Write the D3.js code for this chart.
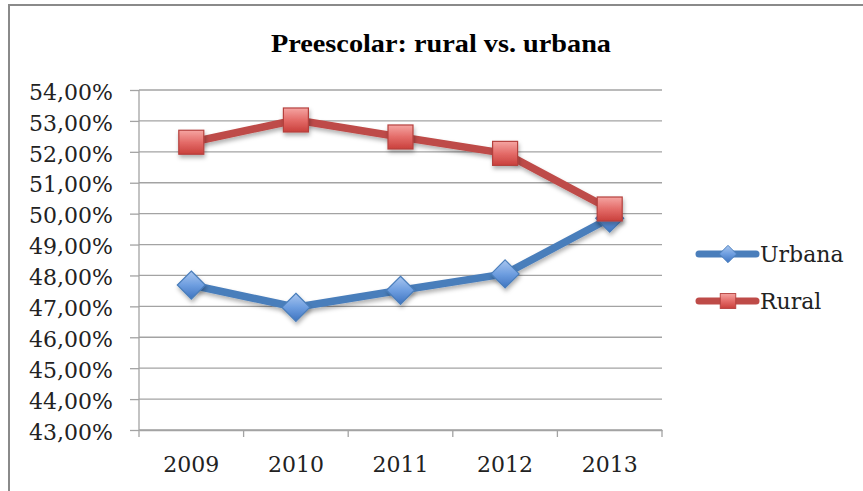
<!DOCTYPE html>
<html>
<head>
<meta charset="utf-8">
<script src="https://cdn.jsdelivr.net/npm/d3@7"></script>
<style>
  html, body { margin: 0; padding: 0; background: #fff; }
  svg { display: block; }
</style>
</head>
<body>
<svg id="chart" width="863" height="491"></svg>
<script>
// Preescolar enrolment share by area, 2009–2013 (percent)
const years = ["2009", "2010", "2011", "2012", "2013"];
const urbana = [47.69, 46.97, 47.52, 48.05, 49.85];
const rural = [52.31, 53.03, 52.48, 51.95, 50.15];
const yTickValues = [43, 44, 45, 46, 47, 48, 49, 50, 51, 52, 53, 54];
const seriesNames = ["Urbana", "Rural"];

const svg = d3.select("#chart");
const W = 863, H = 491;
const serif = "'DejaVu Serif', 'Liberation Serif', serif";

const locale = d3.formatLocale({ decimal: ",", thousands: ".", grouping: [3], currency: ["", ""] });
const fmt = v => locale.format(".2f")(v) + "%";

const plot = { left: 139, right: 662, top: 90, bottom: 430 };

const x = d3.scaleBand().domain(years).range([plot.left, plot.right]).padding(0);
const y = d3.scaleLinear().domain([43, 54]).range([plot.bottom, plot.top]);

// frame
svg.append("path")
  .attr("d", `M9,${H} L9,5 L${W},5`)
  .attr("fill", "none").attr("stroke", "#8a8a8a").attr("stroke-width", 2);

// title
svg.append("text")
  .attr("x", 441).attr("y", 52)
  .attr("text-anchor", "middle")
  .attr("font-family", "'Liberation Serif', serif")
  .attr("font-weight", "bold")
  .attr("font-size", 26)
  .attr("textLength", 340)
  .attr("lengthAdjust", "spacingAndGlyphs")
  .attr("fill", "#000")
  .text("Preescolar: rural vs. urbana");

// gridlines
svg.append("g")
  .selectAll("line").data(yTickValues).join("line")
  .attr("x1", plot.left).attr("x2", plot.right)
  .attr("y1", d => y(d)).attr("y2", d => y(d))
  .attr("stroke", "#a3a3a3").attr("stroke-width", 1.3);

// y axis
const yAxis = svg.append("g")
  .attr("transform", `translate(${plot.left},0)`)
  .call(d3.axisLeft(y).tickValues(yTickValues).tickFormat(fmt).tickSize(9).tickPadding(17));
yAxis.select(".domain").remove();
yAxis.selectAll(".tick line").attr("stroke", "#a3a3a3").attr("stroke-width", 1.3);
yAxis.selectAll(".tick text")
  .attr("font-family", serif).attr("font-size", 22).attr("fill", "#222").attr("dy", "0.42em");

// vertical axis line
svg.append("line")
  .attr("x1", plot.left).attr("x2", plot.left)
  .attr("y1", plot.top).attr("y2", plot.bottom + 7)
  .attr("stroke", "#a3a3a3").attr("stroke-width", 1.3);

// x axis
const xAxis = svg.append("g")
  .attr("transform", `translate(0,${plot.bottom})`)
  .call(d3.axisBottom(x).tickSize(0).tickPadding(26));
xAxis.select(".domain").attr("stroke", "#a3a3a3").attr("stroke-width", 1.3);
xAxis.selectAll(".tick text")
  .attr("font-family", serif).attr("font-size", 22).attr("fill", "#222").attr("dy", "0.71em");
const bounds = years.map(d => x(d)).concat([x(years[years.length - 1]) + x.bandwidth()]);
xAxis.append("g").selectAll("line").data(bounds.slice(1)).join("line")
  .attr("x1", d => d).attr("x2", d => d).attr("y1", 0).attr("y2", 7)
  .attr("stroke", "#a3a3a3").attr("stroke-width", 1.3);

// gradients and shadow
const defs = svg.append("defs");
const blueGrad = defs.append("linearGradient").attr("id", "blueGrad")
  .attr("x1", 0).attr("y1", 0).attr("x2", 0).attr("y2", 1);
blueGrad.append("stop").attr("offset", "0%").attr("stop-color", "#a9c6ef");
blueGrad.append("stop").attr("offset", "50%").attr("stop-color", "#6e9ee0");
blueGrad.append("stop").attr("offset", "100%").attr("stop-color", "#3e74c0");
const redGrad = defs.append("linearGradient").attr("id", "redGrad")
  .attr("x1", 0).attr("y1", 0).attr("x2", 0).attr("y2", 1);
redGrad.append("stop").attr("offset", "0%").attr("stop-color", "#f5a5a2");
redGrad.append("stop").attr("offset", "50%").attr("stop-color", "#e46c69");
redGrad.append("stop").attr("offset", "100%").attr("stop-color", "#c9403c");
const shadow = defs.append("filter").attr("id", "shadow")
  .attr("x", "-50%").attr("y", "-50%").attr("width", "200%").attr("height", "200%");
shadow.append("feDropShadow").attr("dx", 1).attr("dy", 3).attr("stdDeviation", 2)
  .attr("flood-color", "#000").attr("flood-opacity", 0.3);

const series = [
  { name: "Urbana", values: urbana, color: "#4a7ebb", fill: "url(#blueGrad)", stroke: "#4a7ebb", shape: "diamond" },
  { name: "Rural", values: rural, color: "#be4b48", fill: "url(#redGrad)", stroke: "#b5413e", shape: "square" }
];

const cx = d => x(d) + x.bandwidth() / 2;
const line = d3.line().x(d => cx(d.year)).y(d => y(d.v));

function marker(g, shape) {
  if (shape === "diamond") {
    g.append("path").attr("d", "M0,-14 L14,0 L0,14 L-14,0 Z");
  } else {
    g.append("rect").attr("x", -12.5).attr("y", -12).attr("width", 25).attr("height", 24);
  }
}

series.forEach(s => {
  const pts = years.map((yr, i) => ({ year: yr, v: s.values[i] }));
  svg.append("path").datum(pts)
    .attr("d", line)
    .attr("fill", "none").attr("stroke", s.color).attr("stroke-width", 7.5)
    .attr("stroke-linejoin", "round").attr("stroke-linecap", "round")
    .attr("filter", "url(#shadow)");
  const mg = svg.append("g").selectAll("g").data(pts).join("g")
    .attr("transform", d => `translate(${cx(d.year)},${y(d.v)})`)
    .attr("filter", "url(#shadow)");
  mg.each(function () { marker(d3.select(this), s.shape); });
  mg.selectAll("path, rect").attr("fill", s.fill).attr("stroke", s.stroke).attr("stroke-width", 1.2);
});

// legend
const legend = svg.append("g");
series.forEach((s, i) => {
  const ly = 254 + i * 47;
  const g = legend.append("g").attr("transform", `translate(0,${ly})`);
  g.append("line").attr("x1", 699).attr("x2", 756).attr("y1", 0).attr("y2", 0)
    .attr("stroke", s.color).attr("stroke-width", 7).attr("stroke-linecap", "round");
  const m = g.append("g").attr("transform", "translate(728,0) scale(0.62)");
  marker(m, s.shape);
  m.selectAll("path, rect").attr("fill", s.fill).attr("stroke", s.stroke).attr("stroke-width", 1.5);
  g.append("text").attr("x", 760).attr("y", 0).attr("dy", "0.35em")
    .attr("font-family", serif).attr("font-size", 22).attr("fill", "#222")
    .text(s.name);
});
</script>
</body>
</html>
